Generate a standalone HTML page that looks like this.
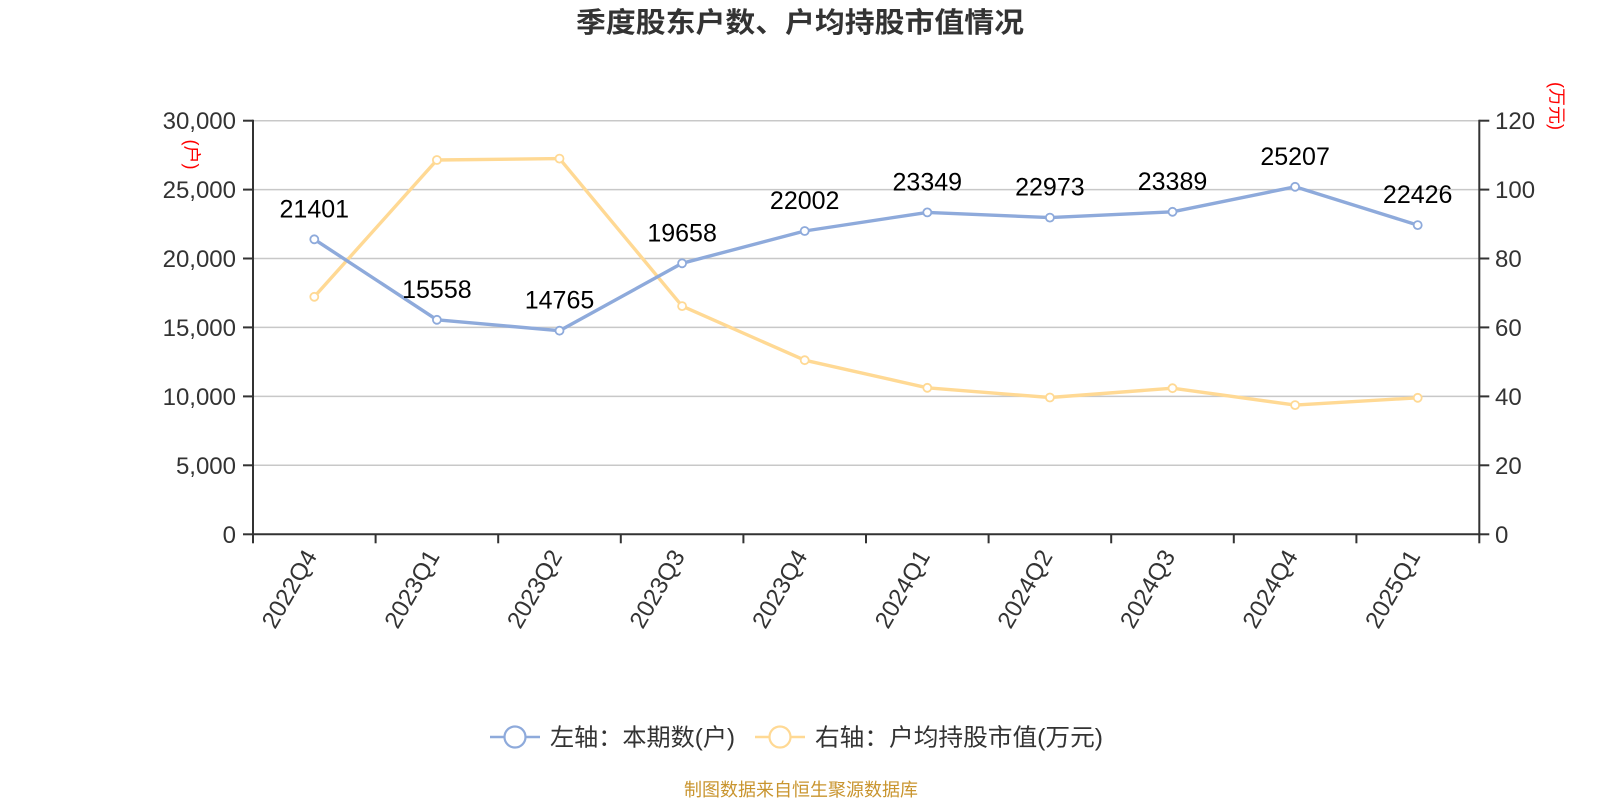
<!DOCTYPE html>
<html>
<head>
<meta charset="utf-8">
<style>
  html, body { margin: 0; padding: 0; background: #fff; }
  body { width: 1600px; height: 800px; overflow: hidden; }
  svg { display: block; }
  text { font-family: "Liberation Sans", "Noto Sans CJK SC", sans-serif; }
</style>
</head>
<body>
<svg width="1600" height="800" viewBox="0 0 1600 800" xmlns="http://www.w3.org/2000/svg">
  <rect width="1600" height="800" fill="#fff"/>

  <!-- Title -->
  <text x="800" y="32" text-anchor="middle" font-size="28" font-weight="bold" fill="#333" textLength="448" lengthAdjust="spacingAndGlyphs">季度股东户数、户均持股市值情况</text>

  <!-- Grid lines -->
  <g stroke="#c8c8c8" stroke-width="1.5">
    <line x1="253" y1="120.7" x2="1479.3" y2="120.7"/>
    <line x1="253" y1="189.6" x2="1479.3" y2="189.6"/>
    <line x1="253" y1="258.5" x2="1479.3" y2="258.5"/>
    <line x1="253" y1="327.4" x2="1479.3" y2="327.4"/>
    <line x1="253" y1="396.4" x2="1479.3" y2="396.4"/>
    <line x1="253" y1="465.3" x2="1479.3" y2="465.3"/>
  </g>

  <!-- Axes -->
  <g stroke="#333" stroke-width="2">
    <line x1="253" y1="119.7" x2="253" y2="535.3"/>
    <line x1="1479.3" y1="119.7" x2="1479.3" y2="535.3"/>
    <line x1="252" y1="534.3" x2="1480.3" y2="534.3"/>
    <line x1="243" y1="120.7" x2="253" y2="120.7"/>
    <line x1="243" y1="189.6" x2="253" y2="189.6"/>
    <line x1="243" y1="258.5" x2="253" y2="258.5"/>
    <line x1="243" y1="327.4" x2="253" y2="327.4"/>
    <line x1="243" y1="396.4" x2="253" y2="396.4"/>
    <line x1="243" y1="465.3" x2="253" y2="465.3"/>
    <line x1="243" y1="534.3" x2="253" y2="534.3"/>
    <line x1="1479.3" y1="120.7" x2="1489.3" y2="120.7"/>
    <line x1="1479.3" y1="189.6" x2="1489.3" y2="189.6"/>
    <line x1="1479.3" y1="258.5" x2="1489.3" y2="258.5"/>
    <line x1="1479.3" y1="327.4" x2="1489.3" y2="327.4"/>
    <line x1="1479.3" y1="396.4" x2="1489.3" y2="396.4"/>
    <line x1="1479.3" y1="465.3" x2="1489.3" y2="465.3"/>
    <line x1="1479.3" y1="534.3" x2="1489.3" y2="534.3"/>
    <line x1="253" y1="534.3" x2="253" y2="543.3"/>
    <line x1="375.6" y1="534.3" x2="375.6" y2="543.3"/>
    <line x1="498.2" y1="534.3" x2="498.2" y2="543.3"/>
    <line x1="620.8" y1="534.3" x2="620.8" y2="543.3"/>
    <line x1="743.4" y1="534.3" x2="743.4" y2="543.3"/>
    <line x1="866" y1="534.3" x2="866" y2="543.3"/>
    <line x1="988.6" y1="534.3" x2="988.6" y2="543.3"/>
    <line x1="1111.2" y1="534.3" x2="1111.2" y2="543.3"/>
    <line x1="1233.8" y1="534.3" x2="1233.8" y2="543.3"/>
    <line x1="1356.4" y1="534.3" x2="1356.4" y2="543.3"/>
    <line x1="1479.3" y1="534.3" x2="1479.3" y2="543.3"/>
  </g>

  <!-- Left axis labels -->
  <g font-size="24" fill="#333" text-anchor="end">
    <text x="236" y="129">30,000</text>
    <text x="236" y="198">25,000</text>
    <text x="236" y="267">20,000</text>
    <text x="236" y="336">15,000</text>
    <text x="236" y="405">10,000</text>
    <text x="236" y="474">5,000</text>
    <text x="236" y="543">0</text>
  </g>

  <!-- Right axis labels -->
  <g font-size="24" fill="#333" text-anchor="start">
    <text x="1495" y="129">120</text>
    <text x="1495" y="198">100</text>
    <text x="1495" y="267">80</text>
    <text x="1495" y="336">60</text>
    <text x="1495" y="405">40</text>
    <text x="1495" y="474">20</text>
    <text x="1495" y="543">0</text>
  </g>

  <!-- Axis unit names -->
  <text x="0" y="0" font-size="18" fill="#ff0000" text-anchor="middle" transform="translate(185.5,154.5) rotate(90)">(户)</text>
  <text x="0" y="0" font-size="18" fill="#ff0000" text-anchor="middle" transform="translate(1550.5,106) rotate(90)">(万元)</text>

  <!-- X axis labels -->
  <g font-size="24" fill="#333" text-anchor="end">
    <text transform="translate(317.7,556) rotate(-60)">2022Q4</text>
    <text transform="translate(440.3,556) rotate(-60)">2023Q1</text>
    <text transform="translate(562.9,556) rotate(-60)">2023Q2</text>
    <text transform="translate(685.5,556) rotate(-60)">2023Q3</text>
    <text transform="translate(808.1,556) rotate(-60)">2023Q4</text>
    <text transform="translate(930.7,556) rotate(-60)">2024Q1</text>
    <text transform="translate(1053.3,556) rotate(-60)">2024Q2</text>
    <text transform="translate(1175.9,556) rotate(-60)">2024Q3</text>
    <text transform="translate(1298.5,556) rotate(-60)">2024Q4</text>
    <text transform="translate(1421.1,556) rotate(-60)">2025Q1</text>
  </g>

  <!-- Yellow series -->
  <polyline fill="none" stroke="#ffd994" stroke-width="3.4" stroke-linejoin="round"
    points="314.3,296.8 436.9,160.0 559.5,158.6 682.1,306.1 804.7,360.2 927.3,387.8 1049.9,397.5 1172.5,388.2 1295.1,405.1 1417.7,397.8"/>
  <g fill="#fff" stroke="#ffd994" stroke-width="1.8">
    <circle cx="314.3" cy="296.8" r="4"/>
    <circle cx="436.9" cy="160.0" r="4"/>
    <circle cx="559.5" cy="158.6" r="4"/>
    <circle cx="682.1" cy="306.1" r="4"/>
    <circle cx="804.7" cy="360.2" r="4"/>
    <circle cx="927.3" cy="387.8" r="4"/>
    <circle cx="1049.9" cy="397.5" r="4"/>
    <circle cx="1172.5" cy="388.2" r="4"/>
    <circle cx="1295.1" cy="405.1" r="4"/>
    <circle cx="1417.7" cy="397.8" r="4"/>
  </g>

  <!-- Blue series -->
  <polyline fill="none" stroke="#8eaadb" stroke-width="3.4" stroke-linejoin="round"
    points="314.3,239.3 436.9,319.8 559.5,330.7 682.1,263.3 804.7,231.0 927.3,212.4 1049.9,217.6 1172.5,211.8 1295.1,186.8 1417.7,225.1"/>
  <g fill="#fff" stroke="#8eaadb" stroke-width="1.8">
    <circle cx="314.3" cy="239.3" r="4"/>
    <circle cx="436.9" cy="319.8" r="4"/>
    <circle cx="559.5" cy="330.7" r="4"/>
    <circle cx="682.1" cy="263.3" r="4"/>
    <circle cx="804.7" cy="231.0" r="4"/>
    <circle cx="927.3" cy="212.4" r="4"/>
    <circle cx="1049.9" cy="217.6" r="4"/>
    <circle cx="1172.5" cy="211.8" r="4"/>
    <circle cx="1295.1" cy="186.8" r="4"/>
    <circle cx="1417.7" cy="225.1" r="4"/>
  </g>

  <!-- Data labels -->
  <g font-size="25" fill="#000" text-anchor="middle">
    <text x="314.3" y="217.3">21401</text>
    <text x="436.9" y="297.8">15558</text>
    <text x="559.5" y="308.7">14765</text>
    <text x="682.1" y="241.3">19658</text>
    <text x="804.7" y="209.0">22002</text>
    <text x="927.3" y="190.4">23349</text>
    <text x="1049.9" y="195.6">22973</text>
    <text x="1172.5" y="189.8">23389</text>
    <text x="1295.1" y="164.8">25207</text>
    <text x="1417.7" y="203.1">22426</text>
  </g>

  <!-- Legend -->
  <g>
    <line x1="490" y1="737" x2="540" y2="737" stroke="#8eaadb" stroke-width="2.5"/>
    <circle cx="515" cy="737" r="10.5" fill="#fff" stroke="#8eaadb" stroke-width="2.2"/>
    <text x="550" y="745.5" font-size="24" fill="#333" textLength="185" lengthAdjust="spacingAndGlyphs">左轴：本期数(户)</text>

    <line x1="755" y1="737" x2="805" y2="737" stroke="#ffd994" stroke-width="2.5"/>
    <circle cx="780" cy="737" r="10.5" fill="#fff" stroke="#ffd994" stroke-width="2.2"/>
    <text x="815" y="745.5" font-size="24" fill="#333" textLength="288" lengthAdjust="spacingAndGlyphs">右轴：户均持股市值(万元)</text>
  </g>

  <!-- Footer -->
  <text x="684" y="796" font-size="18" fill="#c9952f" textLength="234" lengthAdjust="spacingAndGlyphs">制图数据来自恒生聚源数据库</text>
</svg>
</body>
</html>
